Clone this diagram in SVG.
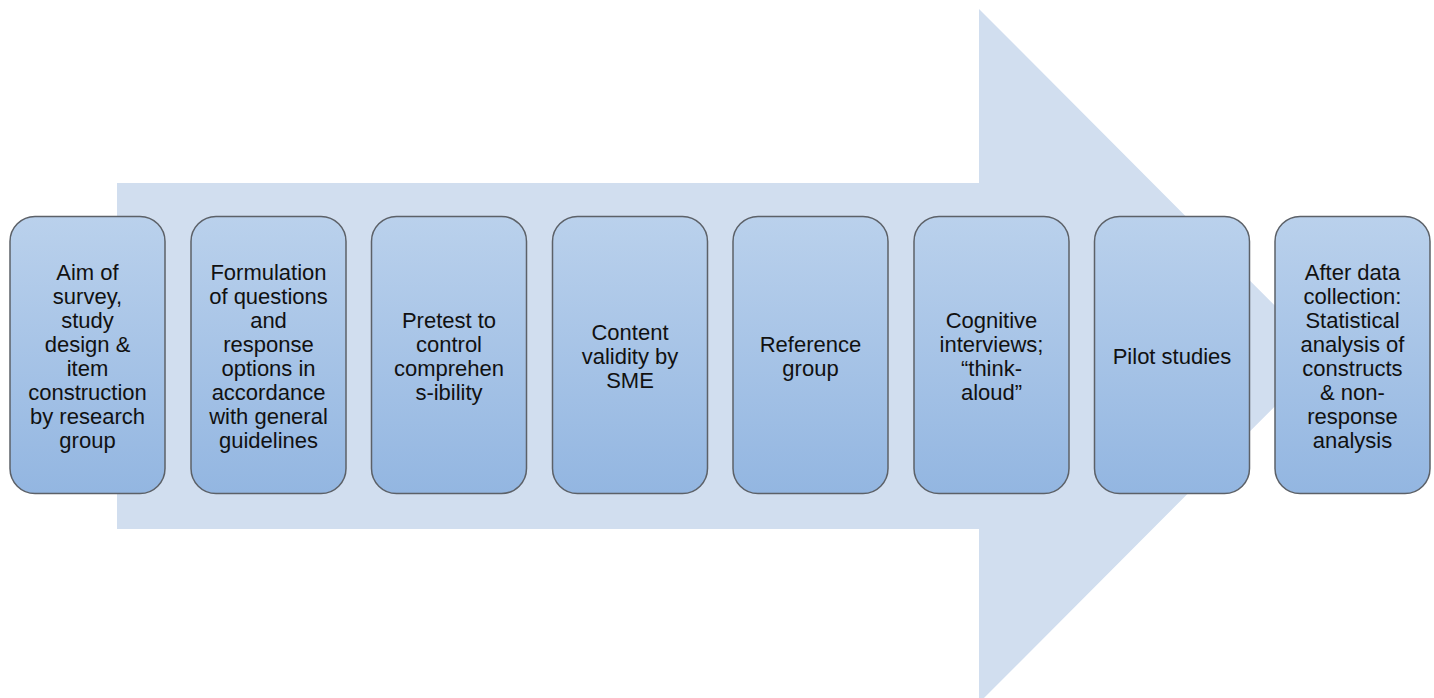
<svg xmlns="http://www.w3.org/2000/svg" width="1434" height="698" viewBox="0 0 1434 698">
<defs>
<linearGradient id="g" x1="0" y1="0" x2="0" y2="1">
<stop offset="0" stop-color="#bad1ec"/>
<stop offset="1" stop-color="#93b6e1"/>
</linearGradient>
<style>
.box{fill:url(#g);stroke:#5c6168;stroke-width:1.5}
.t{font-family:"Liberation Sans",Arial,sans-serif;font-size:22px;fill:#111;text-anchor:middle}
</style>
</defs>
<rect width="1434" height="698" fill="#fff"/>
<g id="connectors">
<polygon id="big-arrow" points="117,183 979,183 979,9 1325,356 979,703 979,529 117,529" fill="#d1deef"/>
</g>
<g id="n1"><rect class="box" x="10" y="216.5" width="155" height="277" rx="25"/>
<text class="t" x="87.5"><tspan x="87.5" y="279.5">Aim of</tspan><tspan x="87.5" y="303.5">survey,</tspan><tspan x="87.5" y="327.5">study</tspan><tspan x="87.5" y="351.5">design &amp;</tspan><tspan x="87.5" y="375.5">item</tspan><tspan x="87.5" y="399.5">construction</tspan><tspan x="87.5" y="423.5">by research</tspan><tspan x="87.5" y="447.5">group</tspan></text></g>
<g id="n2"><rect class="box" x="191" y="216.5" width="155" height="277" rx="25"/>
<text class="t"><tspan x="268.5" y="279.5">Formulation</tspan><tspan x="268.5" y="303.5">of questions</tspan><tspan x="268.5" y="327.5">and</tspan><tspan x="268.5" y="351.5">response</tspan><tspan x="268.5" y="375.5">options in</tspan><tspan x="268.5" y="399.5">accordance</tspan><tspan x="268.5" y="423.5">with general</tspan><tspan x="268.5" y="447.5">guidelines</tspan></text></g>
<g id="n3"><rect class="box" x="371.5" y="216.5" width="155" height="277" rx="25"/>
<text class="t"><tspan x="449" y="327.5">Pretest to</tspan><tspan x="449" y="351.5">control</tspan><tspan x="449" y="375.5">comprehen</tspan><tspan x="449" y="399.5">s-ibility</tspan></text></g>
<g id="n4"><rect class="box" x="552.5" y="216.5" width="155" height="277" rx="25"/>
<text class="t"><tspan x="630" y="339.5">Content</tspan><tspan x="630" y="363.5">validity by</tspan><tspan x="630" y="387.5">SME</tspan></text></g>
<g id="n5"><rect class="box" x="733" y="216.5" width="155" height="277" rx="25"/>
<text class="t"><tspan x="810.5" y="351.5">Reference</tspan><tspan x="810.5" y="375.5">group</tspan></text></g>
<g id="n6"><rect class="box" x="914" y="216.5" width="155" height="277" rx="25"/>
<text class="t"><tspan x="991.5" y="327.5">Cognitive</tspan><tspan x="991.5" y="351.5">interviews;</tspan><tspan x="991.5" y="375.5">“think-</tspan><tspan x="991.5" y="399.5">aloud”</tspan></text></g>
<g id="n7"><rect class="box" x="1094.5" y="216.5" width="155" height="277" rx="25"/>
<text class="t"><tspan x="1172" y="363.5">Pilot studies</tspan></text></g>
<g id="n8"><rect class="box" x="1275" y="216.5" width="155" height="277" rx="25"/>
<text class="t"><tspan x="1352.5" y="279.5">After data</tspan><tspan x="1352.5" y="303.5">collection:</tspan><tspan x="1352.5" y="327.5">Statistical</tspan><tspan x="1352.5" y="351.5">analysis of</tspan><tspan x="1352.5" y="375.5">constructs</tspan><tspan x="1352.5" y="399.5">&amp; non-</tspan><tspan x="1352.5" y="423.5">response</tspan><tspan x="1352.5" y="447.5">analysis</tspan></text></g>
</svg>
